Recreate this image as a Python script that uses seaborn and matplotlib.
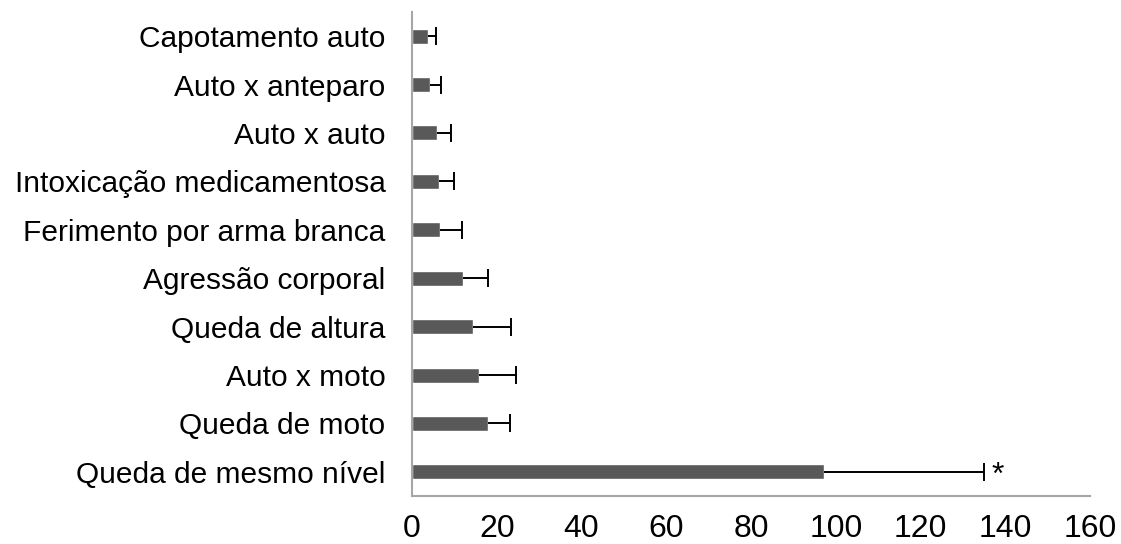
import numpy as np
import pandas as pd
import matplotlib
matplotlib.use("Agg")
import matplotlib.pyplot as plt
import seaborn as sns

# Data (top to bottom)
causes = ['Capotamento auto', 'Auto x anteparo', 'Auto x auto',
          'Intoxicação medicamentosa', 'Ferimento por arma branca',
          'Agressão corporal', 'Queda de altura', 'Auto x moto',
          'Queda de moto', 'Queda de mesmo nível']
means = [3.7, 4.3, 6.0, 6.4, 6.7, 12.0, 14.3, 15.8, 18.0, 97.2]
sds = [2.0, 2.5, 3.1, 3.4, 5.2, 6.0, 9.1, 8.8, 5.2, 37.7]
marked = ['Queda de mesmo nível']
x_ticks = [0, 20, 40, 60, 80, 100, 120, 140, 160]

df = pd.DataFrame({'cause': causes, 'mean': means, 'sd': sds})

sns.set_style("white")
plt.rcParams['font.family'] = ['Liberation Sans', 'DejaVu Sans']

fig = plt.figure(figsize=(11.21, 5.44), dpi=100)
ax = fig.add_axes([0.3675, 0.0882, 0.6049, 0.8898])

sns.barplot(data=df, x='mean', y='cause', order=causes, color='#595959',
            saturation=1, width=0.31, errorbar=None, ax=ax)

ypos = np.arange(len(causes))
eb = ax.errorbar(df['mean'], ypos, xerr=[np.zeros(len(causes)), df['sd']],
                 fmt='none', ecolor='black', elinewidth=1.4, capsize=6.5,
                 capthick=1.4, zorder=3)
eb[1][0].set_visible(False)  # only the upper cap, like the original

for i, row in df.iterrows():
    if row['cause'] in marked:
        ax.text(row['mean'] + row['sd'] + 1.8, i + 0.08, '*', fontsize=23,
                va='center', ha='left', color='black')

ax.set_xlim(0, 160)
ax.set_ylim(len(causes) - 0.5, -0.5)
ax.set_xticks(x_ticks)
ax.set_xlabel('')
ax.set_ylabel('')
ax.tick_params(axis='y', length=0, pad=19, labelsize=21.5, colors='black')
ax.tick_params(axis='x', length=0, pad=13, labelsize=23, colors='black')
for side in ['top', 'right']:
    ax.spines[side].set_visible(False)
for side in ['left', 'bottom']:
    ax.spines[side].set_color('#a6a6a6')
    ax.spines[side].set_linewidth(1.5)

fig.savefig('out.png', dpi=100)
